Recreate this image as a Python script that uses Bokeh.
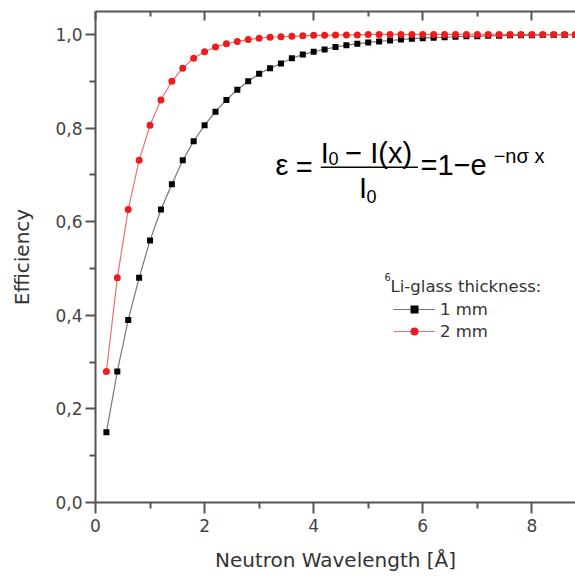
from bokeh.plotting import figure
from bokeh.models import (FixedTicker, CustomJSTickFormatter, LinearAxis, Legend,
                          LegendItem, Label, BoxAnnotation, Range1d, ColumnDataSource)
from bokeh.embed import file_html
from bokeh.resources import INLINE

# ---------------- data ----------------
wavelength = [0.2, 0.4, 0.6, 0.8, 1.0, 1.2, 1.4, 1.6, 1.8, 2.0,
              2.2, 2.4, 2.6, 2.8, 3.0, 3.2, 3.4, 3.6, 3.8, 4.0,
              4.2, 4.4, 4.6, 4.8, 5.0, 5.2, 5.4, 5.6, 5.8, 6.0,
              6.2, 6.4, 6.6, 6.8, 7.0, 7.2, 7.4, 7.6, 7.8, 8.0,
              8.2, 8.4, 8.6, 8.8]
eff_1mm = [0.150, 0.280, 0.390, 0.480, 0.560, 0.626, 0.680, 0.731, 0.772, 0.806,
           0.835, 0.860, 0.882, 0.900, 0.916, 0.928, 0.938, 0.949, 0.957, 0.963,
           0.968, 0.973, 0.977, 0.980, 0.983, 0.985, 0.987, 0.989, 0.991, 0.992,
           0.993, 0.994, 0.995, 0.996, 0.996, 0.997, 0.997, 0.998, 0.998, 0.998,
           0.999, 0.999, 0.999, 0.999]
eff_2mm = [0.280, 0.480, 0.626, 0.731, 0.806, 0.860, 0.900, 0.928, 0.949, 0.963,
           0.973, 0.980, 0.985, 0.989, 0.992, 0.994, 0.995, 0.996, 0.997, 0.998,
           0.998, 0.999, 0.999, 0.999, 1.000, 1.000, 1.000, 1.000, 1.000, 1.000,
           1.000, 1.000, 1.000, 1.000, 1.000, 1.000, 1.000, 1.000, 1.000, 1.000,
           1.000, 1.000, 1.000, 1.000]
series_labels = ["1 mm", "2 mm"]
x_major = [0, 2, 4, 6, 8]
x_minor = [1, 3, 5, 7]
y_major = [0.0, 0.2, 0.4, 0.6, 0.8, 1.0]
y_minor = [0.1, 0.3, 0.5, 0.7, 0.9]

AX_FONT = "DejaVu Sans"
EQ_FONT = "Liberation Sans"
AXIS_COL = "#555555"

p = figure(width=575, height=575, output_backend="svg", toolbar_location=None,
           x_range=Range1d(0, 8.8), y_range=Range1d(0, 1.049),
           min_border_left=95, min_border_right=0, min_border_top=11,
           min_border_bottom=73)
p.outline_line_color = None
p.xgrid.visible = False
p.ygrid.visible = False
p.background_fill_color = "white"
p.border_fill_color = "white"

src1 = ColumnDataSource(dict(x=wavelength, y=eff_1mm))
src2 = ColumnDataSource(dict(x=wavelength, y=eff_2mm))

l1 = p.line("x", "y", source=src1, line_color="#777777", line_width=1.2)
m1 = p.scatter("x", "y", source=src1, marker="square", size=6,
               fill_color="black", line_color=None)
l2 = p.line("x", "y", source=src2, line_color="#f07070", line_width=1.2)
m2 = p.scatter("x", "y", source=src2, marker="circle", size=7,
               fill_color="#ee1c1c", line_color=None)

# axes
xa = p.xaxis[0]
xa.ticker = FixedTicker(ticks=x_major, minor_ticks=x_minor)
xa.formatter = CustomJSTickFormatter(code="return tick.toFixed(0);")
ya = p.yaxis[0]
ya.ticker = FixedTicker(ticks=y_major, minor_ticks=y_minor)
ya.formatter = CustomJSTickFormatter(code="return tick.toFixed(1).replace('.', ',');")

for ax in (xa, ya):
    ax.axis_line_color = AXIS_COL
    ax.axis_line_width = 2
    ax.major_tick_line_color = AXIS_COL
    ax.major_tick_line_width = 2
    ax.minor_tick_line_color = AXIS_COL
    ax.minor_tick_line_width = 2
    ax.major_tick_in = 0
    ax.minor_tick_in = 0
    ax.major_label_text_font = AX_FONT
    ax.major_label_text_font_size = "17px"
    ax.major_label_text_color = "#444444"
    ax.axis_label_text_font = AX_FONT
    ax.axis_label_text_font_style = "normal"
    ax.axis_label_text_font_size = "20px"
    ax.axis_label_text_color = "#333333"

xa.major_tick_out = 11
xa.minor_tick_out = 6
xa.major_label_standoff = 5
xa.axis_label = "Neutron Wavelength [Å]"
xa.axis_label_standoff = 13
ya.major_tick_out = 10
ya.minor_tick_out = 6
ya.major_label_standoff = 3
ya.axis_label = "Efficiency"
ya.axis_label_standoff = 18

top = LinearAxis(ticker=FixedTicker(ticks=x_major, minor_ticks=x_minor),
                 formatter=CustomJSTickFormatter(code="return '';"),
                 axis_line_color=AXIS_COL, axis_line_width=2,
                 major_tick_line_color=AXIS_COL, major_tick_line_width=2,
                 minor_tick_line_color=AXIS_COL, minor_tick_line_width=2,
                 major_tick_in=9, major_tick_out=0, minor_tick_in=5, minor_tick_out=0,
                 major_label_text_font_size="0px", major_label_standoff=0)
p.add_layout(top, "above")

# legend
legend = Legend(items=[LegendItem(label=series_labels[0], renderers=[l1, m1]),
                       LegendItem(label=series_labels[1], renderers=[l2, m2])],
                location=(298, 161), orientation="vertical",
                glyph_width=42, glyph_height=20, label_height=20, spacing=2,
                label_standoff=5, padding=0, margin=0,
                border_line_color=None, background_fill_alpha=0,
                label_text_font=AX_FONT, label_text_font_size="16.5px",
                label_text_color="#333333")
p.add_layout(legend, "center")

def lab(x, y, t, size, font, color="black"):
    p.add_layout(Label(x=x, y=y, text=t, text_font=font, text_font_size=size,
                       text_color=color, text_align="left", text_baseline="middle"))

lab(5.30, 0.4818, "6", "10px", AX_FONT, "#333333")
lab(5.41, 0.4605, "Li-glass thickness:", "16.5px", AX_FONT, "#333333")

# formula
lab(3.30, 0.7212, "ε", "29px", EQ_FONT)
lab(3.67, 0.7158, "=", "29px", EQ_FONT)
lab(4.13, 0.7457, "I", "29px", EQ_FONT)
lab(4.27, 0.7340, "0", "18px", EQ_FONT)
lab(4.58, 0.7457, "− I(x)", "29px", EQ_FONT)
p.add_layout(BoxAnnotation(left=4.13, right=5.91, bottom=0.7147, top=0.7179,
                           fill_color="black", fill_alpha=1, line_color=None))
lab(4.83, 0.6709, "I", "29px", EQ_FONT)
lab(4.97, 0.6528, "0", "18px", EQ_FONT)
lab(5.96, 0.7201, "=1−e", "29px", EQ_FONT)
lab(7.30, 0.7406, "−nσ x", "20px", EQ_FONT)

open("out.html", "w").write(file_html(p, INLINE))
